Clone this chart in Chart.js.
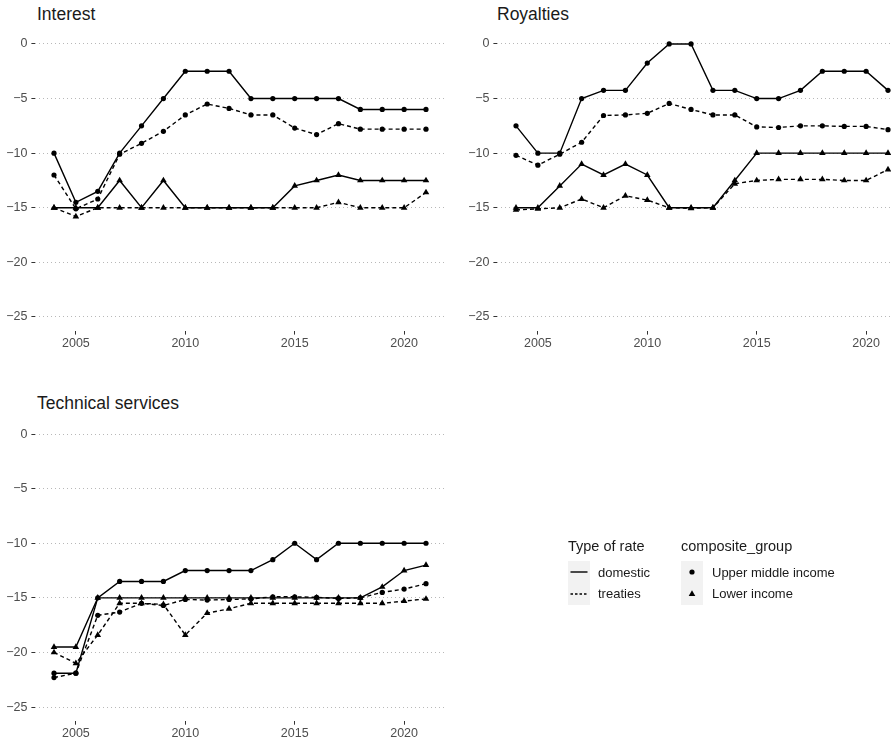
<!DOCTYPE html>
<html><head><meta charset="utf-8">
<script src="https://cdn.jsdelivr.net/npm/chart.js@4.4.1/dist/chart.umd.min.js"></script>
<style>
html,body{margin:0;padding:0;background:#fff;overflow:hidden;width:891px;height:745px;}
body{position:relative;font-family:"Liberation Sans",Arial,sans-serif;}
canvas{position:absolute;}
.t{position:absolute;white-space:nowrap;color:#1a1a1a;line-height:1;}
svg{position:absolute;left:0;top:0;}
</style></head><body>

<div class="t" style="font-size:17.5px;left:37px;top:5.5px;">Interest</div>
<div class="t" style="font-size:17.5px;left:497px;top:5.5px;">Royalties</div>
<div class="t" style="font-size:17.5px;left:37px;top:394.5px;">Technical services</div>

<canvas id="c1"></canvas>
<canvas id="c2"></canvas>
<canvas id="c3"></canvas>

<svg width="891" height="745">
  <rect x="568" y="561" width="22" height="22" fill="#f2f2f2"/>
  <rect x="568" y="583" width="22" height="22" fill="#f2f2f2"/>
  <line x1="570.5" y1="572" x2="587.5" y2="572" stroke="#000" stroke-width="1.4"/>
  <line x1="570.5" y1="594" x2="587.5" y2="594" stroke="#000" stroke-width="1.4" stroke-dasharray="2.5,2"/>
  <rect x="681" y="561" width="22" height="22" fill="#f2f2f2"/>
  <rect x="681" y="583" width="22" height="22" fill="#f2f2f2"/>
  <circle cx="692" cy="572" r="2.6" fill="#000"/>
  <polygon points="692,590.2 695.3,596 688.7,596" fill="#000"/>
</svg>

<div class="t" style="font-size:14.5px;left:568px;top:539px;">Type of rate</div>
<div class="t" style="font-size:14.5px;left:681px;top:539px;">composite_group</div>
<div class="t" style="font-size:13px;left:598px;top:565.5px;">domestic</div>
<div class="t" style="font-size:13px;left:598px;top:587.3px;">treaties</div>
<div class="t" style="font-size:13px;left:712px;top:565.5px;">Upper middle income</div>
<div class="t" style="font-size:13px;left:712px;top:587.3px;">Lower income</div>

<script>
// ---------- data ----------
const years = [2004,2005,2006,2007,2008,2009,2010,2011,2012,2013,2014,2015,2016,2017,2018,2019,2020,2021];
const xTickValues = [2005,2010,2015,2020];
const yTickValues = [-25,-20,-15,-10,-5,0];

// Interest
const interestDomesticUMI = [-10,-14.5,-13.5,-10,-7.5,-5,-2.5,-2.5,-2.5,-5,-5,-5,-5,-5,-6,-6,-6,-6];
const interestTreatiesUMI = [-12,-15.1,-14.2,-10.1,-9.1,-8,-6.5,-5.5,-5.9,-6.5,-6.5,-7.7,-8.3,-7.3,-7.8,-7.8,-7.8,-7.8];
const interestDomesticLI  = [-15,-15,-15,-12.5,-15,-12.5,-15,-15,-15,-15,-15,-13,-12.5,-12,-12.5,-12.5,-12.5,-12.5];
const interestTreatiesLI  = [-15,-15.8,-15,-15,-15,-15,-15,-15,-15,-15,-15,-15,-15,-14.5,-15,-15,-15,-13.6];

// Royalties
const royaltiesDomesticUMI = [-7.5,-10,-10,-5,-4.25,-4.25,-1.75,0,0,-4.25,-4.25,-5,-5,-4.25,-2.5,-2.5,-2.5,-4.25];
const royaltiesTreatiesUMI = [-10.2,-11.1,-10.1,-9,-6.55,-6.5,-6.35,-5.45,-6,-6.5,-6.5,-7.6,-7.65,-7.5,-7.5,-7.55,-7.55,-7.85];
const royaltiesDomesticLI  = [-15,-15,-13,-11,-12,-11,-12,-15,-15,-15,-12.5,-10,-10,-10,-10,-10,-10,-10];
const royaltiesTreatiesLI  = [-15.2,-15.1,-15,-14.2,-15,-13.9,-14.3,-15,-15.05,-15,-12.8,-12.5,-12.4,-12.4,-12.4,-12.5,-12.5,-11.5];

// Technical services
const technicalDomesticUMI = [-21.9,-21.9,-15,-13.5,-13.5,-13.5,-12.5,-12.5,-12.5,-12.5,-11.5,-10,-11.5,-10,-10,-10,-10,-10];
const technicalTreatiesUMI = [-22.3,-21.9,-16.6,-16.3,-15.5,-15.7,-15.15,-15.2,-15.15,-15.1,-14.9,-14.9,-14.95,-15.05,-15,-14.5,-14.2,-13.7];
const technicalDomesticLI  = [-19.5,-19.5,-15,-15,-15,-15,-15,-15,-15,-15,-15,-15,-15,-15,-15,-14,-12.5,-12];
const technicalTreatiesLI  = [-20,-21,-18.4,-15.5,-15.5,-15.6,-18.4,-16.4,-16,-15.5,-15.5,-15.5,-15.5,-15.5,-15.5,-15.5,-15.3,-15.1];

// ---------- drawing ----------
const FONT = '"Liberation Sans", Arial, sans-serif';

function series(vals, dashed, tri) {
  return {
    data: years.map((x, i) => ({x: x, y: vals[i]})),
    borderColor: '#000', backgroundColor: '#000', borderWidth: 1.4,
    borderDash: dashed ? [4, 3] : [],
    pointStyle: tri ? 'triangle' : 'circle',
    pointRadius: tri ? 3.8 : 2.6,
    pointBorderWidth: 0, pointBackgroundColor: '#000',
    tension: 0, fill: false
  };
}

function makePanel(id, box, plot, datasets) {
  const cv = document.getElementById(id);
  cv.width = box.w; cv.height = box.h;
  cv.style.left = box.left + 'px'; cv.style.top = box.top + 'px';
  cv.style.width = box.w + 'px'; cv.style.height = box.h + 'px';
  new Chart(cv, {
    type: 'line',
    data: {datasets: datasets},
    options: {
      responsive: false, animation: false, devicePixelRatio: 1, events: [],
      layout: {padding: {left: 0, top: plot.t - box.top, right: box.left + box.w - plot.r, bottom: 0}},
      plugins: {legend: {display: false}, tooltip: {enabled: false}, title: {display: false}},
      scales: {
        x: {
          type: 'linear', min: 2003.15, max: 2021.85,
          afterBuildTicks: s => { s.ticks = xTickValues.map(v => ({value: v})); },
          afterFit: s => { s.height = box.top + box.h - plot.b; },
          ticks: {callback: v => String(v), color: '#4d4d4d', font: {family: FONT, size: 12.5}, padding: 1, maxRotation: 0, autoSkip: false},
          grid: {drawOnChartArea: false, drawTicks: true, tickLength: 4, tickColor: '#333', tickWidth: 1},
          border: {display: false}
        },
        y: {
          type: 'linear', min: -26.25, max: 1.25,
          afterBuildTicks: s => { s.ticks = yTickValues.map(v => ({value: v})); },
          afterFit: s => { s.width = plot.l - box.left; },
          ticks: {callback: v => v === 0 ? '0' : '\u2212' + Math.abs(v), color: '#4d4d4d', font: {family: FONT, size: 12.5}, padding: 4},
          grid: {color: '#b8b8b8', lineWidth: 1, drawTicks: true, tickLength: 4, tickColor: '#333', tickWidth: 1, tickBorderDash: []},
          border: {display: false, dash: [1, 3]}
        }
      }
    }
  });
}

makePanel('c1', {left: 0, top: 10, w: 450, h: 360}, {l: 35.4, r: 444.6, t: 30.3, b: 330.6}, [
  series(interestDomesticUMI, false, false), series(interestTreatiesUMI, true, false),
  series(interestDomesticLI, false, true), series(interestTreatiesLI, true, true)
]);
makePanel('c2', {left: 460, top: 10, w: 460, h: 360}, {l: 497.4, r: 906.6, t: 30.3, b: 330.6}, [
  series(royaltiesDomesticUMI, false, false), series(royaltiesTreatiesUMI, true, false),
  series(royaltiesDomesticLI, false, true), series(royaltiesTreatiesLI, true, true)
]);
makePanel('c3', {left: 0, top: 400, w: 450, h: 345}, {l: 35.4, r: 444.6, t: 420.4, b: 720.7}, [
  series(technicalDomesticUMI, false, false), series(technicalTreatiesUMI, true, false),
  series(technicalDomesticLI, false, true), series(technicalTreatiesLI, true, true)
]);
</script>
</body></html>
